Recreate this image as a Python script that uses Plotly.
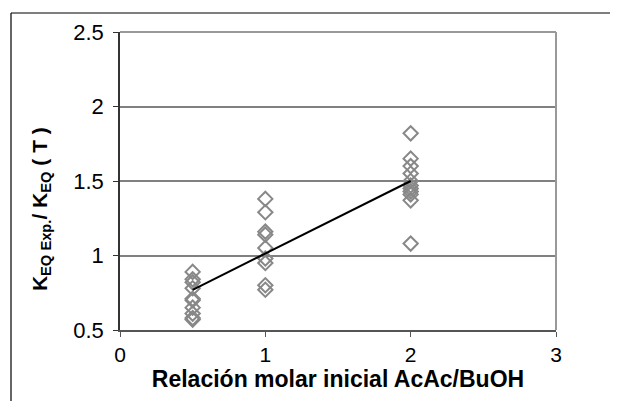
import plotly.graph_objects as go

# data
x_05 = [0.5] * 10
y_05 = [0.89, 0.84, 0.82, 0.78, 0.71, 0.70, 0.65, 0.61, 0.58, 0.57]
x_1 = [1] * 9
y_1 = [1.38, 1.29, 1.16, 1.14, 1.05, 0.98, 0.95, 0.80, 0.77]
x_2 = [2] * 11
y_2 = [1.82, 1.65, 1.60, 1.55, 1.50, 1.47, 1.45, 1.43, 1.41, 1.37, 1.08]
line_x = [0.5, 2]
line_y = [0.77, 1.50]
y_ticks = [0.5, 1, 1.5, 2, 2.5]
y_ticktext = ["0.5", "1", "1.5", "2", "2.5"]
x_ticks = [0, 1, 2, 3]

fig = go.Figure()
fig.add_trace(go.Scatter(
    x=x_05 + x_1 + x_2, y=y_05 + y_1 + y_2, mode="markers",
    marker=dict(symbol="diamond-open", size=11, color="#888888",
                line=dict(color="#888888", width=2)),
    showlegend=False, cliponaxis=False))
fig.add_trace(go.Scatter(
    x=line_x, y=line_y, mode="lines",
    line=dict(color="black", width=2), showlegend=False))

font = "Liberation Sans, Arial, sans-serif"
fig.update_layout(
    width=602, height=393,
    margin=dict(l=112, r=54, t=24, b=71),
    paper_bgcolor="white", plot_bgcolor="white",
    font=dict(family=font, color="black", size=20),
    xaxis=dict(range=[0, 3], tickvals=x_ticks, showgrid=False, zeroline=False,
               showline=True, linecolor="#555555", linewidth=2,
               ticks="outside", ticklen=5, tickcolor="#555555",
               tickfont=dict(size=21),
               title=dict(text="<b>Relación molar inicial AcAc/BuOH</b>",
                          font=dict(size=23), standoff=3)),
    yaxis=dict(range=[0.5, 2.5], tickvals=y_ticks, ticktext=y_ticktext,
               showgrid=True, gridcolor="#808080", gridwidth=1.5,
               zeroline=False, showline=True, linecolor="#333333", linewidth=1.5,
               ticks="outside", ticklen=5, tickcolor="#333333",
               tickfont=dict(size=22), ticklabelstandoff=5),
    annotations=[
        dict(text="<b>K<sub>EQ Exp.</sub>/ K<sub>EQ</sub> ( T )</b>",
             xref="paper", yref="paper", x=-0.181, y=0.406,
             xanchor="center", yanchor="middle", textangle=-90,
             showarrow=False, font=dict(size=21, color="black")),
    ],
    shapes=[
        dict(type="line", xref="paper", yref="paper", x0=0, x1=1, y0=1, y1=1,
             line=dict(color="#999999", width=2)),
        dict(type="line", xref="paper", yref="paper", x0=1, x1=1, y0=0, y1=1,
             line=dict(color="#999999", width=2)),
        dict(type="line", xref="paper", yref="paper", x0=-0.25, x1=1.3,
             y0=1.0638, y1=1.0638, line=dict(color="black", width=1.2)),
        dict(type="line", xref="paper", yref="paper", x0=-0.25, x1=-0.25,
             y0=-0.4, y1=1.0638, line=dict(color="black", width=1.2)),
    ],
)
fig.write_html("out.html")
